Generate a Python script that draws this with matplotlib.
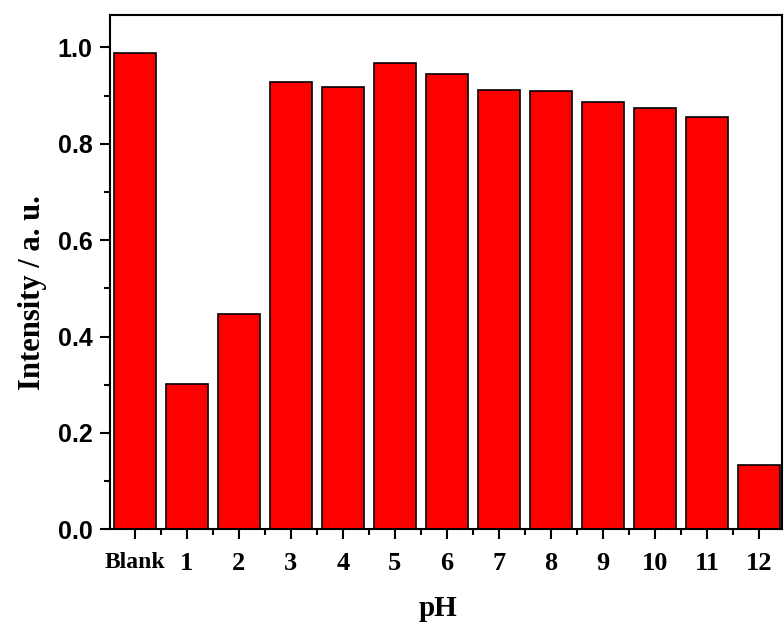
import numpy as np
import matplotlib.pyplot as plt
from matplotlib.ticker import MultipleLocator

# data
ph_labels = ['Blank', '1', '2', '3', '4', '5', '6', '7', '8', '9', '10', '11', '12']
intensity = [0.988, 0.301, 0.446, 0.927, 0.918, 0.968, 0.944, 0.912, 0.910, 0.887, 0.874, 0.856, 0.134]

fig = plt.figure(figsize=(7.84, 6.25), dpi=100)
ax = fig.add_axes([0.140, 0.153, 0.8575, 0.823])

x = np.arange(len(ph_labels))
ax.bar(x, intensity, width=0.8, color='#ff0000', edgecolor='black', linewidth=1.2)

ax.set_xlim(-0.48, 12.44)
ax.set_ylim(0, 1.067)

ax.set_xticks(x)
ax.set_xticklabels(ph_labels, fontfamily='Liberation Serif', fontweight='bold', fontsize=19)
ax.xaxis.set_minor_locator(MultipleLocator(0.5))
ax.yaxis.set_minor_locator(MultipleLocator(0.1))
ax.set_yticks(np.arange(0, 1.01, 0.2))
ax.set_yticklabels([f'{v:.1f}' for v in np.arange(0, 1.01, 0.2)],
                   fontfamily='Liberation Sans', fontweight='bold', fontsize=18)
ax.get_xticklabels()[0].set_fontsize(17)

ax.tick_params(which='major', direction='out', length=7.5, width=1.5)
ax.tick_params(which='minor', direction='out', length=4, width=1.5)
ax.tick_params(axis='x', pad=9)
ax.tick_params(axis='y', pad=5)
for s in ax.spines.values():
    s.set_linewidth(1.5)

ax.set_xlabel('pH', fontfamily='Liberation Serif', fontweight='bold', fontsize=21)
ax.set_ylabel('Intensity / a. u.', fontfamily='Liberation Serif', fontweight='bold', fontsize=22)
ax.xaxis.set_label_coords(0.488, -0.128)
ax.yaxis.set_label_coords(-0.094, 0.46)

fig.savefig('out.png', dpi=100)
